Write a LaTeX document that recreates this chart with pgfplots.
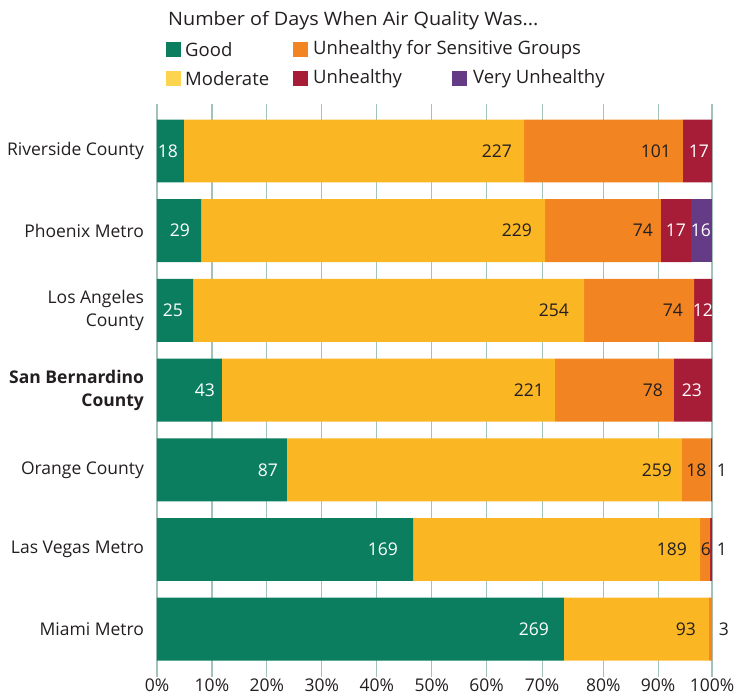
\documentclass[border=0pt]{standalone}
\usepackage{pgfplots}
\pgfplotsset{compat=1.18}
\usepackage{pgfplotstable}
\usepackage{fontspec}
\setmainfont{Open Sans}
\definecolor{cgood}{HTML}{0B7E60}
\definecolor{cmod}{HTML}{FBB624}
\definecolor{cmodleg}{HTML}{FDD44F}
\definecolor{cusg}{HTML}{F28421}
\definecolor{cunh}{HTML}{A71C37}
\definecolor{cvun}{HTML}{663B85}
\definecolor{cgrid}{HTML}{A3C2BA}
\definecolor{tdark}{HTML}{231F20}

% y: 0 Riverside ... 6 Miami ; w: share of bar in percent ; lab: days
% dx: label shift (pt) from segment end ; k: 100 = dark text, 0 = white text
\pgfplotstableread[col sep=comma]{
y,w,lab,dx,k
0,4.86,18,0,0
1,7.93,29,-5,0
2,6.49,25,-4,0
3,11.71,43,-1,0
4,23.42,87,-3,0
5,46.13,169,-9,0
6,73.33,269,-9,0
}\tgood
\pgfplotstableread[col sep=comma]{
y,w,lab,dx,k
0,61.27,227,-6,100
1,61.98,229,-7,100
2,70.45,254,-9,100
3,60.00,221,-5,100
4,71.17,259,-4,100
5,51.71,189,-7,100
6,26.13,93,-7,100
}\tmod
\pgfplotstableread[col sep=comma]{
y,w,lab,dx,k
0,28.64,101,-6,100
1,20.90,74,-2,100
2,19.82,74,-5,100
3,21.44,78,-5,100
4,5.14,18,2,100
5,1.80,6,7,100
6,0.54,3,23,100
}\tusg
\pgfplotstableread[col sep=comma]{
y,w,lab,dx,k
0,5.23,17,3,0
1,5.41,17,1,0
2,3.24,12,7,0
3,6.85,23,-4,0
4,0.27,1,21,100
5,0.36,1,21,100
6,0,,0,0
}\tunh
\pgfplotstableread[col sep=comma]{
y,w,lab,dx,k
0,0,,0,0
1,3.78,16,5,0
2,0,,0,0
3,0,,0,0
4,0,,0,0
5,0,,0,0
6,0,,0,0
}\tvun

\begin{document}
\fontsize{17.5}{22}\selectfont
\begin{tikzpicture}
\useasboundingbox (0,0) rectangle (750pt,698pt);
\begin{axis}[
  at={(157pt,21pt)}, anchor=south west,
  scale only axis, width=555pt, height=573pt,
  xbar stacked, bar width=0.79,
  y dir=reverse,
  xmin=0, xmax=100, ymin=-0.59, ymax=6.60,
  xtick={0,9.9,19.8,29.7,39.6,49.5,59.4,69.4,80.4,90.3,100},
  xticklabels={0\%,10\%,20\%,30\%,40\%,50\%,60\%,70\%,80\%,90\%,100\%},
  ytick={0,...,6},
  yticklabels={Riverside County, Phoenix Metro, Los Angeles\\County,
    \textbf{San Bernardino}\\\textbf{County}, Orange County,
    Las Vegas Metro, Miami Metro},
  yticklabel style={align=right, font=\fontsize{17.5}{23}\selectfont, text=tdark, xshift=-7pt},
  xticklabel style={font=\fontsize{17.5}{22}\selectfont, text=tdark, yshift=4pt},
  major tick length=0pt,
  xmajorgrids, grid style={cgrid, line width=1.2pt},
  axis x line*=bottom, axis y line*=left,
  x axis line style={draw=none},
  y axis line style={cgrid, line width=1.2pt},
  point meta=explicit symbolic,
  nodes near coords={\pgfplotspointmeta},
  visualization depends on={\thisrow{w}*2.775+\thisrow{dx} \as \dx},
  visualization depends on={\thisrow{k} \as \kk},
  nodes near coords style={anchor=east, xshift=\dx pt, text=tdark!\kk!white, font=\fontsize{17.5}{22}\selectfont},
  clip=false,
]
\addplot[fill=cgood, draw=none] table[x=w, y=y, meta=lab] {\tgood};
\addplot[fill=cmod, draw=none] table[x=w, y=y, meta=lab] {\tmod};
\addplot[fill=cusg, draw=none] table[x=w, y=y, meta=lab] {\tusg};
\addplot[fill=cunh, draw=none] table[x=w, y=y, meta=lab] {\tunh};
\addplot[fill=cvun, draw=none] table[x=w, y=y, meta=lab] {\tvun};
\end{axis}
% legend
\begin{scope}[every node/.style={font=\fontsize{18.5}{22}\selectfont, text=tdark, inner sep=0pt}]
\node[anchor=base west] at (168pt,672pt) {\scalebox{1.07}[1]{Number of Days When Air Quality Was...}};
\fill[cgood] (166pt,641pt) rectangle ++(15pt,15pt);
\node[anchor=west] at (185pt,648.5pt) {Good};
\fill[cusg] (293pt,641pt) rectangle ++(15pt,15pt);
\node[anchor=west] at (313pt,648.5pt) {Unhealthy for Sensitive Groups};
\fill[cmodleg] (166pt,612pt) rectangle ++(15pt,15pt);
\node[anchor=west] at (185pt,619.5pt) {Moderate};
\fill[cunh] (293pt,612pt) rectangle ++(15pt,15pt);
\node[anchor=west] at (313pt,619.5pt) {Unhealthy};
\fill[cvun] (452pt,612pt) rectangle ++(15pt,15pt);
\node[anchor=west] at (473pt,619.5pt) {Very Unhealthy};
\end{scope}
\end{tikzpicture}
\end{document}
